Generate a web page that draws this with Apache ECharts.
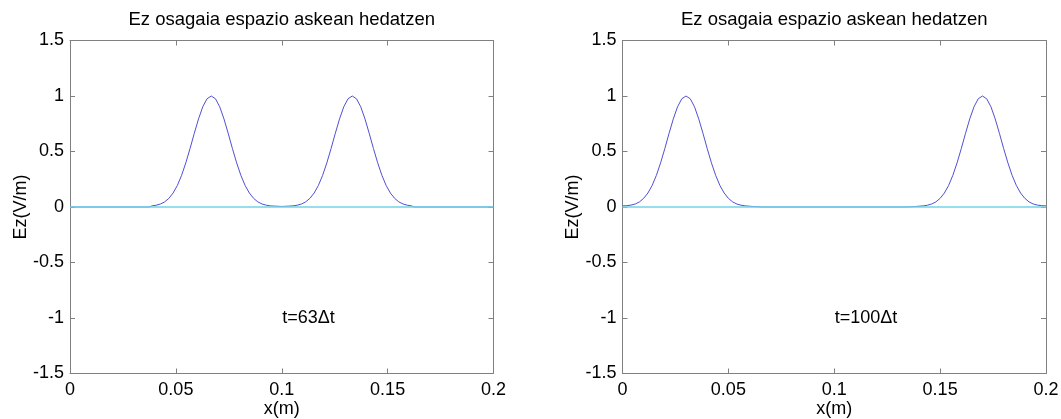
<!DOCTYPE html>
<html>
<head>
<meta charset="utf-8">
<script src="https://cdn.jsdelivr.net/npm/echarts@6.0.0/dist/echarts.min.js"></script>
<style>
  html, body { margin: 0; padding: 0; background: #fff; }
  #chart { width: 1061px; height: 419px; }
</style>
</head>
<body>
<div id="chart"></div>
<script>
// Ez at t = 63 dt (two pulses leaving the source at x = 0.1)
const x63 = [0, 0.0375, 0.0387, 0.0407, 0.0427, 0.0447, 0.0467, 0.0487, 0.0507, 0.0527, 0.0547,
  0.0567, 0.0587, 0.0607, 0.0627, 0.0647, 0.0667, 0.0687, 0.0707, 0.0727, 0.0747, 0.0767,
  0.0787, 0.0807, 0.0827, 0.0847, 0.0867, 0.0887, 0.0907, 0.0927, 0.0947, 0.0967, 0.0987,
  0.1, 0.1013, 0.1033, 0.1053, 0.1073, 0.1093, 0.1113, 0.1133, 0.1153, 0.1173, 0.1193,
  0.1213, 0.1233, 0.1253, 0.1273, 0.1293, 0.1313, 0.1333, 0.1353, 0.1373, 0.1393, 0.1413,
  0.1433, 0.1453, 0.1473, 0.1493, 0.1513, 0.1533, 0.1553, 0.1573, 0.1593, 0.1613, 0.1625, 0.2];
const ez63 = [0, 0, 0.010, 0.016, 0.027, 0.046, 0.078, 0.126, 0.194, 0.285, 0.398,
  0.527, 0.664, 0.794, 0.903, 0.975, 1, 0.975, 0.903, 0.794, 0.664, 0.527,
  0.398, 0.285, 0.194, 0.126, 0.078, 0.046, 0.027, 0.016, 0.010, 0.008, 0.006,
  0.005, 0.006, 0.008, 0.010, 0.016, 0.027, 0.046, 0.078, 0.126, 0.194, 0.285,
  0.398, 0.527, 0.664, 0.794, 0.903, 0.975, 1, 0.975, 0.903, 0.794, 0.664,
  0.527, 0.398, 0.285, 0.194, 0.126, 0.078, 0.046, 0.027, 0.016, 0.010, 0, 0];

// Ez at t = 100 dt
const x100 = [0, 0.002, 0.004, 0.006, 0.008, 0.010, 0.012, 0.014, 0.016, 0.018, 0.020,
  0.022, 0.024, 0.026, 0.028, 0.030, 0.032, 0.034, 0.036, 0.038, 0.040, 0.042, 0.044,
  0.046, 0.048, 0.050, 0.052, 0.054, 0.056, 0.058, 0.060, 0.062, 0.064, 0.066,
  0.134, 0.136, 0.138, 0.140, 0.142, 0.144, 0.146, 0.148, 0.150, 0.152, 0.154, 0.156,
  0.158, 0.160, 0.162, 0.164, 0.166, 0.168, 0.170, 0.172, 0.174, 0.176, 0.178, 0.180,
  0.182, 0.184, 0.186, 0.188, 0.190, 0.192, 0.194, 0.196, 0.198, 0.200];
const ez100 = [0.010, 0.012, 0.017, 0.027, 0.046, 0.078, 0.126, 0.194, 0.285, 0.398, 0.527,
  0.664, 0.794, 0.903, 0.975, 1, 0.975, 0.903, 0.794, 0.664, 0.527, 0.398, 0.285,
  0.194, 0.126, 0.078, 0.046, 0.027, 0.016, 0.010, 0.007, 0.004, 0.002, 0,
  0, 0.002, 0.004, 0.007, 0.010, 0.016, 0.027, 0.046, 0.078, 0.126, 0.194, 0.285,
  0.398, 0.527, 0.664, 0.794, 0.903, 0.975, 1, 0.975, 0.903, 0.794, 0.664, 0.527,
  0.398, 0.285, 0.194, 0.126, 0.078, 0.046, 0.027, 0.017, 0.012, 0.010];

const zeroX = [0, 0.2];
const zeroY = [0, 0];

const panels = [
  { xs: x63, ys: ez63, label: 't=63\u0394t' },
  { xs: x100, ys: ez100, label: 't=100\u0394t' },
];
const titleText = 'Ez osagaia espazio askean hedatzen';
const xName = 'x(m)';
const yName = 'Ez(V/m)';
const labelPos = [0.1, -1];

const FONT = 'Liberation Sans, Arial, sans-serif';
const FRAME = '#808080';
const grids = [
  { left: 70, top: 40.5, width: 423.5, height: 333, outerBoundsMode: 'none', containLabel: false },
  { left: 622.5, top: 40.5, width: 423.5, height: 333, outerBoundsMode: 'none', containLabel: false },
];

const zip = (a, b) => a.map((v, i) => [v, b[i]]);

const xAxis = [];
const yAxis = [];
const series = [];
const title = [];

grids.forEach((g, i) => {
  const tick = { show: true, inside: true, length: 5, lineStyle: { color: FRAME, width: 1 } };
  const line = { show: true, onZero: false, lineStyle: { color: FRAME, width: 1 } };
  const lab = { color: '#000', fontSize: 18, fontFamily: FONT };
  xAxis.push({
    gridIndex: i, type: 'value', min: 0, max: 0.2, interval: 0.05, position: 'bottom',
    axisLine: line, axisTick: tick, splitLine: { show: false },
    axisLabel: Object.assign({ margin: 8 }, lab),
    name: xName, nameLocation: 'middle', nameGap: 27, nameMoveOverlap: false,
    nameTextStyle: { color: '#000', fontSize: 18, fontFamily: FONT },
  });
  xAxis.push({
    gridIndex: i, type: 'value', min: 0, max: 0.2, interval: 0.05, position: 'top',
    axisLine: line, axisTick: tick, splitLine: { show: false }, axisLabel: { show: false },
  });
  yAxis.push({
    gridIndex: i, type: 'value', min: -1.5, max: 1.5, interval: 0.5, position: 'left',
    axisLine: line, axisTick: tick, splitLine: { show: false },
    axisLabel: Object.assign({ margin: 6 }, lab),
    name: yName, nameLocation: 'middle', nameGap: 40, nameMoveOverlap: false,
    nameTextStyle: { color: '#000', fontSize: 18, fontFamily: FONT },
  });
  yAxis.push({
    gridIndex: i, type: 'value', min: -1.5, max: 1.5, interval: 0.5, position: 'right',
    axisLine: line, axisTick: tick, splitLine: { show: false }, axisLabel: { show: false },
  });

  const p = panels[i];
  series.push({
    type: 'line', xAxisIndex: i * 2, yAxisIndex: i * 2,
    data: zip(p.xs, p.ys), showSymbol: false, symbol: 'none',
    lineStyle: { color: '#5050d4', width: 1 }, z: 2,
  });
  series.push({
    type: 'line', xAxisIndex: i * 2, yAxisIndex: i * 2,
    data: zip(zeroX, zeroY), showSymbol: false, symbol: 'none',
    lineStyle: { color: '#70d5e4', width: 1.4 }, z: 3,
  });
  series.push({
    type: 'scatter', xAxisIndex: i * 2, yAxisIndex: i * 2,
    data: [labelPos], symbolSize: 1, itemStyle: { color: '#ffffff', opacity: 1 }, silent: true, z: 4,
    label: {
      show: true, position: 'right', distance: 0, formatter: p.label,
      color: '#000000', fontSize: 18, fontFamily: FONT,
      textBorderWidth: 0, textBorderColor: 'transparent', textShadowBlur: 0,
    },
  });

  title.push({
    text: titleText, left: g.left + g.width / 2, textAlign: 'center', top: 10, padding: 0,
    textStyle: { color: '#000', fontSize: 18.5, fontWeight: 'normal', fontFamily: FONT },
  });
});

const chart = echarts.init(document.getElementById('chart'));
chart.setOption({
  animation: false,
  backgroundColor: '#fff',
  title,
  grid: grids,
  xAxis,
  yAxis,
  series,
});
</script>
</body>
</html>
